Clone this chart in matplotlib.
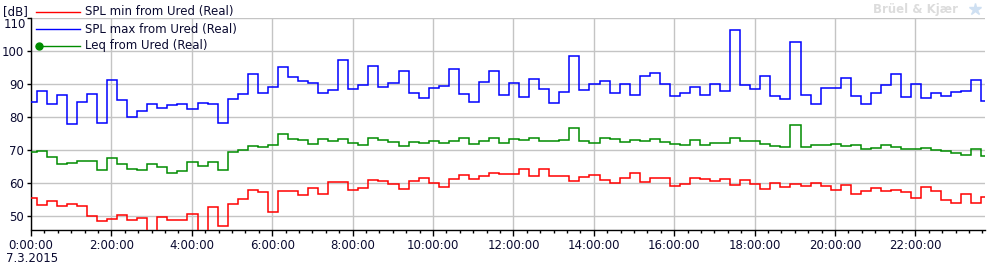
import numpy as np
import matplotlib
matplotlib.use("Agg")
import matplotlib.pyplot as plt
from matplotlib.lines import Line2D

# 15-minute values, 7.3.2015 (first interval starts before midnight)
spl_max = [84.5, 87.9, 83.9, 86.7, 77.9, 84.5, 87.0, 78.3, 91.2, 85.1,
           80.0, 82.0, 83.9, 82.7, 83.6, 83.9, 82.4, 84.2, 83.9, 78.2,
           85.4, 87.0, 93.0, 87.3, 89.1, 95.2, 92.1, 90.9, 90.3, 87.3,
           88.2, 97.3, 88.5, 89.8, 95.5, 89.1, 90.3, 93.9, 87.3, 85.8,
           88.8, 89.5, 94.5, 87.0, 84.5, 90.6, 93.9, 86.9, 90.3, 86.1,
           91.5, 88.5, 84.2, 87.6, 98.5, 88.2, 90.0, 90.9, 87.3, 90.0,
           86.8, 92.4, 93.3, 90.0, 86.4, 87.4, 89.1, 86.8, 90.0, 87.9,
           106.4, 89.7, 88.5, 92.4, 86.4, 85.5, 102.7, 86.7, 83.9, 88.8,
           88.8, 91.8, 86.5, 84.0, 87.3, 89.9, 93.2, 86.1, 90.0, 85.7,
           87.3, 86.5, 87.6, 87.9, 91.2, 84.8]

leq = [69.4, 69.8, 67.9, 65.8, 66.1, 66.7, 66.7, 63.9, 67.6, 65.8,
       64.2, 63.9, 65.8, 64.8, 63.0, 63.6, 66.4, 65.2, 66.4, 63.9,
       69.4, 70.0, 71.2, 70.9, 71.5, 74.8, 73.3, 73.0, 71.8, 73.3,
       72.7, 73.3, 72.1, 71.5, 73.6, 73.0, 72.4, 71.2, 72.4, 72.1,
       72.7, 72.1, 72.7, 73.6, 71.8, 72.8, 73.6, 72.1, 73.3, 73.0,
       73.6, 72.7, 72.7, 73.0, 76.9, 72.7, 72.1, 73.6, 73.3, 72.4,
       73.0, 72.7, 73.3, 72.4, 71.8, 71.5, 73.0, 71.5, 72.1, 72.1,
       73.6, 72.8, 72.8, 71.8, 71.2, 70.9, 77.6, 70.9, 71.5, 71.5,
       71.8, 71.2, 71.5, 70.3, 70.6, 71.5, 70.9, 70.3, 70.3, 70.6,
       70.0, 69.7, 69.1, 68.5, 70.3, 68.2]

spl_min = [55.5, 53.3, 54.5, 53.0, 53.6, 53.0, 50.0, 48.5, 49.1, 50.3,
           48.8, 49.4, 43.0, 49.7, 48.8, 48.8, 50.6, 43.0, 52.7, 47.0,
           53.6, 55.2, 57.9, 57.3, 51.2, 57.6, 57.6, 56.4, 58.5, 56.7,
           60.3, 60.3, 57.9, 58.5, 60.9, 60.6, 59.7, 58.2, 60.6, 61.5,
           60.0, 58.8, 61.2, 62.4, 61.2, 62.2, 63.2, 62.9, 62.7, 64.2,
           62.1, 64.2, 62.1, 62.1, 60.6, 61.8, 62.4, 60.9, 60.0, 61.5,
           63.0, 60.3, 61.5, 61.5, 59.1, 59.7, 61.5, 61.2, 60.6, 61.2,
           59.4, 60.9, 59.7, 58.2, 60.0, 58.8, 59.7, 59.1, 60.0, 59.1,
           57.9, 59.4, 56.7, 57.6, 58.5, 57.6, 57.9, 57.3, 55.4, 58.8,
           57.6, 54.8, 53.9, 56.7, 53.9, 55.7]

series_names = ["SPL min from Ured (Real)", "SPL max from Ured (Real)", "Leq from Ured (Real)"]
tick_hours = list(range(0, 24, 2))
tick_labels = ["%d:00:00" % h for h in tick_hours]
date_label = "7.3.2015"

# interval edges in hours: first interval starts at 23:53:30 of the previous day
start = -0.1082
edges = start + 0.25 * np.arange(len(spl_max) + 1)

W, H = 994, 265
fig = plt.figure(figsize=(W / 100, H / 100), dpi=100)
ax = fig.add_axes([31 / W, 1 - 229.5 / H, 954 / W, 211.2 / H])

def fxy(x, y):
    # pixel position -> figure fraction
    return x / W, 1 - y / H

ax.stairs(spl_max, edges, baseline=None, color="#0000ff", lw=1.1, zorder=3)
ax.stairs(leq, edges, baseline=None, color="#008c00", lw=1.1, zorder=3)
ax.stairs(spl_min, edges, baseline=None, color="#ff0000", lw=1.1, zorder=3)

ax.set_xlim(0, 23.73)
ax.set_ylim(46, 110)
ax.set_xticks(tick_hours)
ax.set_xticklabels(tick_labels)
ax.set_xticks(np.arange(0, 23.75, 1 / 3), minor=True)
ax.set_yticks(range(50, 111, 10))
ax.set_yticklabels([str(v) for v in range(50, 101, 10)] + [""])
ax.grid(True, which="major", color="#c4c4c4", lw=1.0)
ax.set_axisbelow(True)

for s in ["top", "right"]:
    ax.spines[s].set_visible(False)
for s in ["left", "bottom"]:
    ax.spines[s].set_color("black")
    ax.spines[s].set_linewidth(1.0)

lab_col = "#0a0a30"
ax.tick_params(axis="x", which="major", length=4, width=1, pad=3, labelsize=8.5, labelcolor=lab_col)
ax.tick_params(axis="x", which="minor", length=2.5, width=1)
ax.tick_params(axis="y", length=3, width=1, pad=2, labelsize=8.5, labelcolor=lab_col)

# top y label pushed down inside the axes height
ax.text(-5 / 954, 110, "110", transform=ax.get_yaxis_transform(), ha="right", va="top",
        fontsize=8.5, color=lab_col)

fig.text(*fxy(3, 12), "[dB]", fontsize=8.5, color=lab_col, va="center", ha="left")
fig.text(*fxy(6, 258), date_label, fontsize=8.5, color=lab_col, va="center", ha="left")

# legend drawn by hand (marker sits at left end of the Leq line)
leg_cols = ["#ff0000", "#0000ff", "#008c00"]
for i, (name, col) in enumerate(zip(series_names, leg_cols)):
    y = 12 + 17 * i
    x0, y0 = fxy(36, y)
    x1, _ = fxy(80, y)
    fig.add_artist(Line2D([x0, x1], [y0, y0], color=col, lw=1.0, transform=fig.transFigure))
    if i == 2:
        fig.add_artist(Line2D([fxy(39, y)[0]], [y0], marker="o", ms=5, color=col,
                              transform=fig.transFigure))
    fig.text(*fxy(85, y), name, fontsize=8.5, color=lab_col, va="center", ha="left")

# faint company logo top right
fig.text(*fxy(958, 9), "Brüel & Kjær", fontsize=8.5, fontweight="bold", color="#dcdcdc",
         ha="right", va="center")
fig.add_artist(Line2D([fxy(975, 9)[0]], [fxy(975, 9)[1]], marker="*", ms=9, color="#cfe0f2",
                      transform=fig.transFigure))

fig.savefig("out.png", dpi=100)
